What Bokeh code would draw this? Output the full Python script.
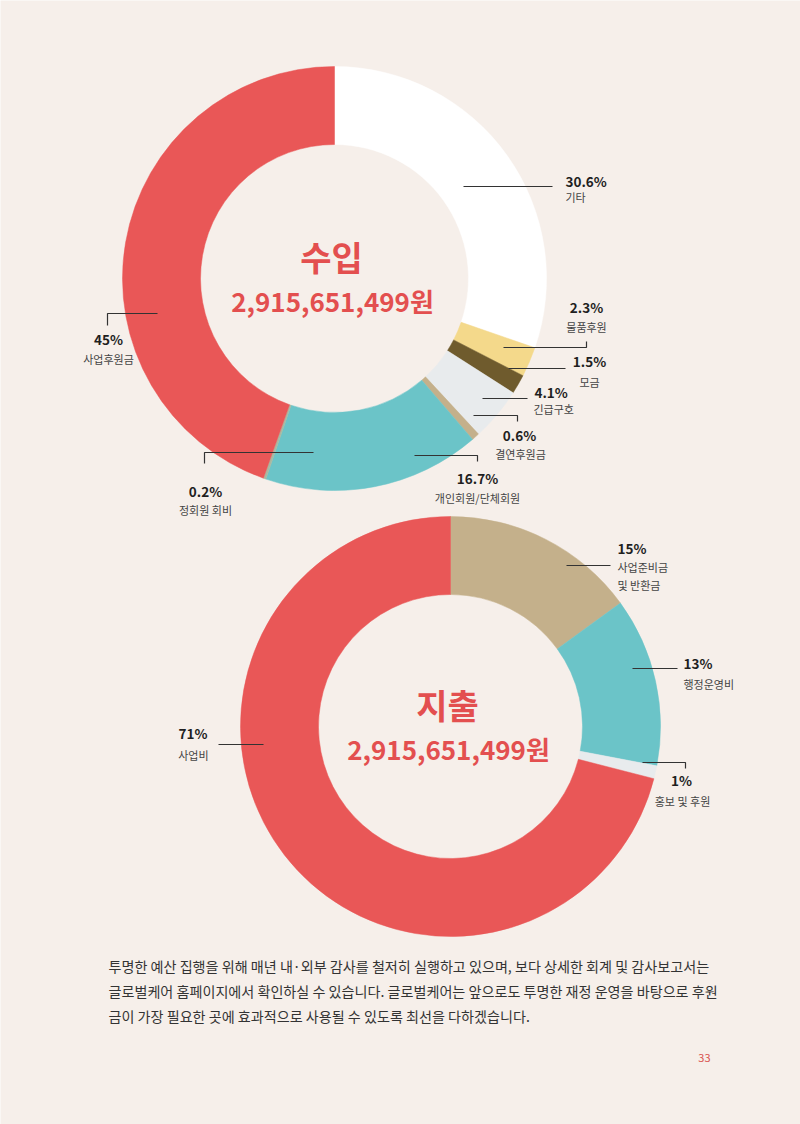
from bokeh.plotting import figure
from bokeh.models import Range1d, ColumnDataSource
from bokeh.core.properties import value
from bokeh.embed import file_html
from bokeh.resources import INLINE
import math

# ---------------- data ----------------
income_names = ["기타", "물품후원", "모금", "긴급구호", "결연후원금", "개인회원/단체회원", "정회원 회비", "사업후원금"]
income_values = [30.6, 2.3, 1.5, 4.1, 0.6, 16.7, 0.2, 45]
income_colors = ["#ffffff", "#f4d98b", "#6f5b2d", "#e8ebed", "#c4b08b", "#6bc4c8", "#a9b8a1", "#e95757"]

expense_names = ["사업준비금\n및 반환금", "행정운영비", "홍보 및 후원", "사업비"]
expense_values = [15, 13, 1, 71]
expense_colors = ["#c4b08b", "#6bc4c8", "#e8ebed", "#e95757"]

income_title = "수입"
expense_title = "지출"
total_text = "2,915,651,499원"

paragraph = [
    "투명한 예산 집행을 위해 매년 내·외부 감사를 철저히 실행하고 있으며, 보다 상세한 회계 및 감사보고서는",
    "글로벌케어 홈페이지에서 확인하실 수 있습니다. 글로벌케어는 앞으로도 투명한 재정 운영을 바탕으로 후원",
    "금이 가장 필요한 곳에 효과적으로 사용될 수 있도록 최선을 다하겠습니다.",
]
page_number = "33"

# ---------------- layout ----------------
W, H = 800, 1124
BG = "#f6efea"
RED = "#e34f4f"
FONT = "Noto Sans CJK KR"

def Y(py):
    return H - py

income_center = (334, 278)
income_r = (134, 212)
expense_center = (450, 726)
expense_r = (132, 210)

# label layout: (pct_x, pct_y, name_x, name_y, align)
income_label_pos = [
    (565, 180, 565, 196, "left"),
    (586, 306, 586, 326, "center"),
    (589, 360, 589, 381, "center"),
    (534, 391, 533, 408, "left"),
    (519, 434, 520, 453, "center"),
    (477, 477, 477, 497, "center"),
    (205, 490, 205, 509, "center"),
    (108, 338, 108, 358, "center"),
]
income_leaders = [
    [(463, 186), (552, 186)],
    [(503, 347), (586, 347), (586, 341)],
    [(508, 368), (565, 368)],
    [(482, 398), (527, 398)],
    [(473, 415), (517, 415), (517, 421)],
    [(414, 455), (477, 455), (477, 461)],
    [(313, 452), (204, 452), (204, 463)],
    [(157, 313), (107, 313), (107, 325)],
]
expense_label_pos = [
    (617, 547, 617, 566, "left"),
    (683, 662, 683, 683, "left"),
    (681, 779, 682, 800, "center"),
    (207, 732, 208, 754, "right"),
]
expense_leaders = [
    [(566, 565), (610, 565)],
    [(632, 668), (677, 668)],
    [(642, 762), (685, 762), (685, 768)],
    [(218, 744), (263, 744)],
]

p = figure(width=W, height=H, output_backend="svg", toolbar_location=None,
           x_range=Range1d(0, W), y_range=Range1d(0, H),
           x_axis_type=None, y_axis_type=None, min_border=0,
           background_fill_color=BG, border_fill_color=BG, outline_line_color=None)
p.grid.visible = False


def donut(center, radii, values, colors):
    total = sum(values)
    cum = 0.0
    starts, ends = [], []
    for v in values:
        a = cum / total * 360.0
        b = (cum + v) / total * 360.0
        starts.append(math.radians(90 - b))
        ends.append(math.radians(90 - a))
        cum += v
    src = ColumnDataSource(dict(x=[center[0]] * len(values), y=[Y(center[1])] * len(values),
                                start=starts, end=ends, color=colors))
    p.annular_wedge(x="x", y="y", inner_radius=radii[0], outer_radius=radii[1],
                    start_angle="start", end_angle="end", fill_color="color",
                    line_color="color", line_width=0.5, source=src)


def labels(names, values, positions, leaders):
    for name, v, pos, ld in zip(names, values, positions, leaders):
        px, py, nx, ny, al = pos
        p.text(x=[px], y=[Y(py)], text=[f"{v:g}%"], text_font=value(FONT),
               text_font_style="bold", text_font_size="13.5px", text_color="#1f1f1f",
               text_align=al, text_baseline="middle")
        for i, line in enumerate(name.split("\n")):
            p.text(x=[nx], y=[Y(ny + i * 18)], text=[line], text_font=value(FONT),
                   text_font_size="11px", text_color="#444444",
                   text_align=al, text_baseline="middle")
        p.line(x=[q[0] for q in ld], y=[Y(q[1]) for q in ld], line_color="#333333", line_width=1.2)


donut(income_center, income_r, income_values, income_colors)
donut(expense_center, expense_r, expense_values, expense_colors)
labels(income_names, income_values, income_label_pos, income_leaders)
labels(expense_names, expense_values, expense_label_pos, expense_leaders)

# center titles
for (cx, cy), title in [(income_center, income_title), (expense_center, expense_title)]:
    p.text(x=[cx - 3], y=[Y(cy - 22)], text=[title], text_font=value(FONT), text_font_style="bold",
           text_font_size="34px", text_color=RED, text_align="center", text_baseline="middle")
    p.text(x=[cx - 2], y=[Y(cy + 22)], text=[total_text], text_font=value(FONT), text_font_style="bold",
           text_font_size="26px", text_color=RED, text_align="center", text_baseline="middle")

# paragraph
for i, line in enumerate(paragraph):
    p.text(x=[108], y=[Y(965 + i * 25)], text=[line], text_font=value(FONT),
           text_font_size="14.1px", text_color="#333333", text_align="left", text_baseline="middle")

p.text(x=[710], y=[Y(1057)], text=[page_number], text_font=value(FONT),
       text_font_size="11px", text_color="#d9534f", text_align="right", text_baseline="middle")

open("out.html", "w").write(file_html(p, INLINE))
